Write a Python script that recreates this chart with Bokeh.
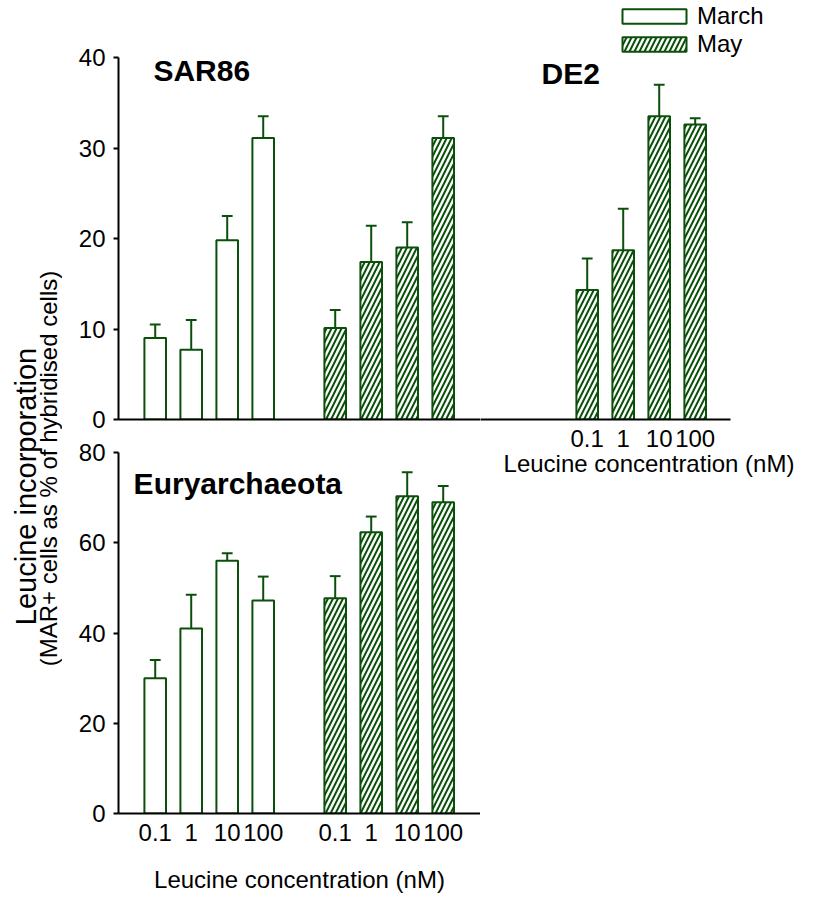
import math
from bokeh.plotting import figure
from bokeh.layouts import row, column
from bokeh.models import (ColumnDataSource, Range1d, FixedTicker, Label,
                          Legend, LegendItem)
from bokeh.core.properties import value
from bokeh.embed import file_html
from bokeh.resources import INLINE

# ---------------- data ----------------
conc_labels = ["0.1", "1", "10", "100"]

sar86_march = [9.0, 7.7, 19.8, 31.1]
sar86_march_err = [1.5, 3.3, 2.7, 2.4]
sar86_may = [10.1, 17.4, 19.0, 31.1]
sar86_may_err = [2.0, 4.0, 2.8, 2.4]
de2_may = [14.3, 18.7, 33.5, 32.6]
de2_may_err = [3.5, 4.6, 3.5, 0.7]
eury_march = [30.0, 41.0, 56.0, 47.2]
eury_march_err = [4.0, 7.5, 1.7, 5.3]
eury_may = [47.7, 62.3, 70.3, 69.0]
eury_may_err = [4.9, 3.5, 5.3, 3.6]

top_yticks = [0, 10, 20, 30, 40]
bottom_yticks = [0, 20, 40, 60, 80]

# ---------------- style ----------------
GREEN = "#0a4f0a"
FONT = "Liberation Sans"
BAR_W = 0.6
CAP_W = 0.3
TICK_FS = "24px"
LABEL_FS = "24px"
TITLE_FS = "30px"

MARCH_START, MAY_START, DE2_START = 0, 5, 12
X_LEFT = -1.02          # data x at the left frame edge of the left panels
X_SPLIT = 9.036         # data x where the left panels meet the DE2 panel
X_RIGHT = 18.397        # data x at the right canvas edge
TOP_YMAX = 46.3         # top panels: frame reaches the canvas top
BOTTOM_BORDER = 86      # shared bottom border of the row's plots


def positions(start):
    return [start + i for i in range(len(conc_labels))]


def make_src(start, vals, errs):
    xs = positions(start)
    return ColumnDataSource(dict(
        x=xs, top=vals,
        err_top=[v + e for v, e in zip(vals, errs)],
        cap_l=[x - CAP_W / 2 for x in xs],
        cap_r=[x + CAP_W / 2 for x in xs],
    ))


def bar_kw(hatched):
    kw = dict(fill_color="white", line_color=GREEN, line_width=2)
    if hatched:
        kw.update(hatch_pattern="/", hatch_color=GREEN, hatch_weight=2,
                  hatch_scale=10)
    return kw


def draw_bars(p, source, hatched):
    r = p.vbar(x="x", top="top", bottom=0, width=BAR_W, source=source,
               **bar_kw(hatched))
    p.segment(x0="x", y0="top", x1="x", y1="err_top", source=source,
              line_color=GREEN, line_width=2)
    p.segment(x0="cap_l", y0="err_top", x1="cap_r", y1="err_top",
              source=source, line_color=GREEN, line_width=2)
    return r


def base_style(p):
    p.outline_line_color = None
    p.grid.visible = False
    p.background_fill_color = "white"
    p.border_fill_color = "white"
    for ax in p.axis:
        ax.axis_line_width = 2
        ax.axis_line_color = "black"
        ax.major_tick_line_width = 2
        ax.major_tick_line_color = "black"
        ax.major_tick_out = 5
        ax.major_tick_in = 0
        ax.minor_tick_line_color = None
        ax.major_label_text_font = FONT
        ax.major_label_text_font_size = TICK_FS
        ax.major_label_text_color = "black"
        ax.axis_label_text_font = FONT
        ax.axis_label_text_font_size = LABEL_FS
        ax.axis_label_text_font_style = "normal"
        ax.axis_label_text_color = "black"


def xaxis_style(ax, ticks, labels):
    ax.ticker = FixedTicker(ticks=ticks)
    ax.major_label_overrides = {t: l for t, l in zip(ticks, labels)}
    ax.major_tick_line_color = None
    ax.major_tick_out = 0
    ax.major_label_standoff = 10


def title_label(x, y, text):
    return Label(x=x, y=y, text=text, text_font=FONT,
                 text_font_size=TITLE_FS, text_font_style="bold",
                 text_baseline="alphabetic", text_align="left",
                 text_color="black")


# ---------------- top-left panel (SAR86) ----------------
pA = figure(width=418, height=433, x_range=Range1d(X_LEFT, X_SPLIT),
            y_range=Range1d(0, TOP_YMAX), toolbar_location=None,
            output_backend="svg", min_border_left=56, min_border_right=0,
            min_border_top=0, min_border_bottom=14)
sar86_march_src = make_src(MARCH_START, sar86_march, sar86_march_err)
draw_bars(pA, sar86_march_src, False)
draw_bars(pA, make_src(MAY_START, sar86_may, sar86_may_err), True)
base_style(pA)
pA.yaxis.ticker = FixedTicker(ticks=top_yticks)
pA.yaxis.bounds = (0, 40)
pA.yaxis.major_label_standoff = 8
xaxis_style(pA.xaxis[0], [], [])
pA.add_layout(title_label(-0.05, 38.56, "SAR86"))

# ---------------- bottom-left panel (Euryarchaeota) ----------------
pB = figure(width=418, height=466, x_range=Range1d(X_LEFT, X_SPLIT),
            y_range=Range1d(0, 80), toolbar_location=None,
            output_backend="svg", min_border_left=56, min_border_right=0,
            min_border_top=19, min_border_bottom=BOTTOM_BORDER)
draw_bars(pB, make_src(MARCH_START, eury_march, eury_march_err), False)
draw_bars(pB, make_src(MAY_START, eury_may, eury_may_err), True)
base_style(pB)
pB.yaxis.ticker = FixedTicker(ticks=bottom_yticks)
pB.yaxis.major_label_standoff = 8
xaxis_style(pB.xaxis[0], positions(MARCH_START) + positions(MAY_START),
            conc_labels + conc_labels)
pB.xaxis.axis_label = "Leucine concentration (nM)"
pB.xaxis.axis_label_standoff = 22
pB.add_layout(title_label(-0.6, 73.1, "Euryarchaeota"))

# ---------------- top-right panel (DE2) ----------------
pD = figure(width=337, height=419 + BOTTOM_BORDER,
            x_range=Range1d(X_SPLIT, X_RIGHT),
            y_range=Range1d(0, TOP_YMAX), toolbar_location=None,
            output_backend="svg", y_axis_location=None,
            min_border_left=0, min_border_right=0,
            min_border_top=0, min_border_bottom=BOTTOM_BORDER)
r_may = draw_bars(pD, make_src(DE2_START, de2_may, de2_may_err), True)
# March series (no DE2 data in March): hidden here, used only as the
# legend's March entry
r_march = pD.vbar(x="x", top="top", bottom=0, width=BAR_W,
                  source=sar86_march_src, **bar_kw(False))
r_march.visible = False
base_style(pD)
xaxis_style(pD.xaxis[0], positions(DE2_START), conc_labels)
pD.xaxis.bounds = (X_SPLIT, 15.98)
pD.xaxis.axis_label = "Leucine concentration (nM)"
pD.xaxis.axis_label_standoff = 0
pD.add_layout(title_label(10.73, 38.23, "DE2"))
legend = Legend(items=[LegendItem(label="March", renderers=[r_march]),
                       LegendItem(label="May", renderers=[r_may])],
                location=(134, 361), glyph_width=80, glyph_height=18,
                label_text_font=FONT, label_text_font_size=LABEL_FS,
                label_text_color="black",
                label_standoff=3, padding=0, margin=0, spacing=0,
                border_line_color=None, background_fill_alpha=0,
                inactive_fill_alpha=0)
pD.add_layout(legend)

# ---------------- shared y-axis title ----------------
pT = figure(width=62, height=899, x_range=Range1d(0, 62),
            y_range=Range1d(BOTTOM_BORDER, 899), toolbar_location=None,
            output_backend="svg", x_axis_location=None,
            y_axis_location=None, min_border_left=0, min_border_right=0,
            min_border_top=0, min_border_bottom=BOTTOM_BORDER)
pT.outline_line_color = None
pT.grid.visible = False
pT.text(x=[25], y=[413], text=["Leucine incorporation"], angle=math.pi / 2,
        text_align="center", text_baseline="middle",
        text_font=value(FONT), text_font_size="29px", text_color="black")
pT.text(x=[48], y=[431], text=["(MAR+ cells as % of hybridised cells)"],
        angle=math.pi / 2, text_align="center", text_baseline="middle",
        text_font=value(FONT), text_font_size="24px", text_color="black")

layout = row(pT, column(pA, pB), pD)
open("out.html", "w").write(file_html(layout, INLINE))
